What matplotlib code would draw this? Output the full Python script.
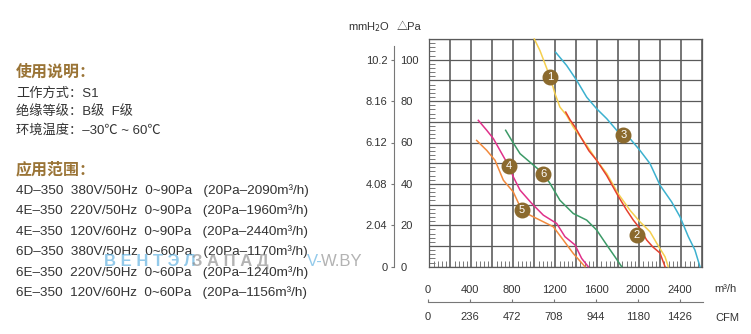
import numpy as np
import matplotlib.pyplot as plt
from matplotlib.ticker import MultipleLocator

FONT = ['Liberation Sans', 'Noto Sans CJK SC', 'DejaVu Sans']
plt.rcParams['font.family'] = FONT

# fan curves: airflow (m3/h) vs static pressure (Pa)
curve1_x = [1000, 1054, 1102, 1150, 1197, 1244, 1308, 1371, 1420, 1499, 1594, 1690, 1800, 1911, 2006, 2102, 2165, 2245, 2276]
curve1_y = [110, 104.4, 98, 91.6, 83.6, 77.1, 73.1, 67.5, 64, 58.6, 51.4, 45, 35.2, 27.3, 21.7, 16.9, 11.4, 4.8, 0]
curve2_x = [1299, 1340, 1388, 1450, 1520, 1594, 1690, 1800, 1880, 1943, 2006, 2070, 2130, 2197, 2245]
curve2_y = [74.7, 71, 67.5, 62, 56, 51.4, 44, 34, 27.3, 22.5, 18.5, 12.9, 9.5, 6.6, 0]
curve3_x = [1203, 1308, 1404, 1499, 1594, 1690, 1800, 1911, 2006, 2102, 2197, 2308, 2388, 2467, 2530, 2578]
curve3_y = [103.6, 97.2, 90, 81.9, 76.3, 71.5, 65, 61.9, 56.2, 49.8, 39.4, 31.3, 24.1, 14.5, 8, 0]
curve4_x = [467, 547, 610, 673, 759, 800, 864, 975, 1086, 1213, 1292, 1388, 1451, 1514]
curve4_y = [70.7, 65.9, 61.9, 56.2, 48.5, 43.4, 37, 30.6, 24.9, 20.9, 14.5, 10.5, 4, 0]
curve5_x = [451, 547, 626, 705, 800, 880, 959, 1054, 1181, 1276, 1371, 1483]
curve5_y = [61, 56.2, 51.4, 41.8, 36.1, 27.3, 24.9, 22.5, 19.3, 12.9, 6.4, 0]
curve6_x = [727, 785, 864, 975, 1086, 1150, 1244, 1371, 1499, 1594, 1690, 1768, 1832]
curve6_y = [65.9, 61, 54.6, 49.8, 45, 40.2, 32.1, 25.7, 22.5, 17.7, 10.5, 4.8, 0]

curve_colors = ['#f5cf4e', '#e5402e', '#3cb1cf', '#e0318a', '#f28a3d', '#3c9a67']
label_x = [1150, 1975, 1848, 759, 880, 1086]
label_y = [91.6, 15.1, 63.5, 48.5, 27.3, 45]

pa_ticks = [0, 20, 40, 60, 80, 100]
mm_labels = ['0', '2.04', '4.08', '6.12', '8.16', '10.2']
flow_ticks = [0, 400, 800, 1200, 1600, 2000, 2400]
cfm_labels = ['0', '236', '472', '708', '944', '1180', '1426']

usage_title = '使用说明：'
usage_lines = ['工作方式：S1', '绝缘等级：B级  F级', '环境温度：–30℃ ~ 60℃']
range_title = '应用范围：'
range_lines = [
    '4D–350  380V/50Hz  0~90Pa   (20Pa–2090m³/h)',
    '4E–350  220V/50Hz  0~90Pa   (20Pa–1960m³/h)',
    '4E–350  120V/60Hz  0~90Pa   (20Pa–2440m³/h)',
    '6D–350  380V/50Hz  0~60Pa   (20Pa–1170m³/h)',
    '6E–350  220V/50Hz  0~60Pa   (20Pa–1240m³/h)',
    '6E–350  120V/60Hz  0~60Pa   (20Pa–1156m³/h)',
]

W, H = 751, 334
fig = plt.figure(figsize=(W / 100, H / 100), dpi=100)
fig.patch.set_facecolor('white')


def fx(px):
    return px / W


def fy(py):
    return 1 - py / H


text_color = '#333333'
gold = '#9a7436'

# left description block
fig.text(fx(16), fy(71.7), usage_title, fontsize=11.5, weight='bold', color=gold, va='center')
for i, line in enumerate(usage_lines):
    fig.text(fx(16), fy(93.3 + i * 18.4), line, fontsize=9.5, color=text_color, va='center')
fig.text(fx(16), fy(170), range_title, fontsize=11.5, weight='bold', color=gold, va='center')
for i, line in enumerate(range_lines):
    fig.text(fx(16), fy(190.5 + i * 20.5), line, fontsize=9.7, color=text_color, va='center')

# watermark
fig.text(fx(104), fy(261.5), 'В Е Н Т Э Л', fontsize=12, weight='bold', color='#5aaee0', alpha=0.65, va='center')
fig.text(fx(192), fy(261.5), 'З А П А Д', fontsize=12, weight='bold', color='#8a8a8a', alpha=0.65, va='center')
fig.text(fx(307), fy(261.5), 'V-', fontsize=12, color='#5aaee0', alpha=0.65, va='center')
fig.text(fx(321), fy(261.5), 'W.BY', fontsize=12, color='#8a8a8a', alpha=0.65, va='center')

# main chart
left, right, top, bottom = 429.3, 702.3, 39, 266.7
ax = fig.add_axes([fx(left), fy(bottom), fx(right - left), (bottom - top) / H])
ax.set_xlim(0, 2600)
ax.set_ylim(0, 110)
ax.xaxis.set_major_locator(MultipleLocator(200))
ax.yaxis.set_major_locator(MultipleLocator(10))
ax.xaxis.set_minor_locator(MultipleLocator(40))
ax.yaxis.set_minor_locator(MultipleLocator(2))
ax.grid(True, which='major', axis='x', color='#505050', lw=1.1)
ax.grid(True, which='major', axis='y', color='#5a5a5a', lw=0.9)
ax.tick_params(which='major', length=0, labelbottom=False, labelleft=False)
ax.tick_params(which='minor', direction='in', length=4, color='#777777', width=0.7,
               left=True, bottom=True, right=False, top=False)
for s in ax.spines.values():
    s.set_color('#5a5a5a')
    s.set_linewidth(0.9)

curves = [(curve1_x, curve1_y), (curve2_x, curve2_y), (curve3_x, curve3_y),
          (curve4_x, curve4_y), (curve5_x, curve5_y), (curve6_x, curve6_y)]
for (cx, cy), c in zip(curves, curve_colors):
    ax.plot(cx, cy, color=c, lw=1.1, zorder=3, clip_on=False)

ax.scatter(label_x, label_y, s=110, color='#8b6a2e', zorder=5, clip_on=False)
for i, (lx, ly) in enumerate(zip(label_x, label_y)):
    ax.text(lx, ly, str(i + 1), color='white', fontsize=8, ha='center', va='center', zorder=6)

# pressure scale on the left: mmH2O | Pa
axl = fig.add_axes([fx(394.3), fy(bottom), 0.0001, (bottom - top) / H])
axl.set_ylim(0, 110)
axl.set_xticks([])
for k in ['top', 'right', 'bottom']:
    axl.spines[k].set_visible(False)
axl.spines['left'].set_color('#777777')
axl.spines['left'].set_linewidth(0.8)
axl.spines['left'].set_bounds(0, 106.4)
axl.set_yticks(pa_ticks, mm_labels)
axl.tick_params(axis='y', length=2.5, width=0.8, color='#777777', pad=2.5,
                labelsize=8, labelcolor=text_color)
pa_axis = axl.secondary_yaxis('right')
pa_axis.set_yticks(pa_ticks, [str(t) for t in pa_ticks])
pa_axis.tick_params(length=0, pad=4.3, labelsize=8, labelcolor=text_color)
pa_axis.spines['right'].set_visible(False)

fig.text(fx(348), fy(26.7), 'mmH$_2$O', fontsize=8, color=text_color, va='center')
fig.text(fx(397), fy(26.7), '△Pa', fontsize=8, color=text_color, va='center')

# airflow scale below: m3/h on top, CFM under the line
axb = fig.add_axes([fx(428), fy(302), fx(703 - 428), 0.0001])
axb.set_xlim(0, 2600 * (703 - 428) / (right - left))
axb.set_yticks([])
for k in ['top', 'right', 'left']:
    axb.spines[k].set_visible(False)
axb.spines['bottom'].set_color('#777777')
axb.spines['bottom'].set_linewidth(0.8)
axb.set_xticks(flow_ticks, cfm_labels)
axb.tick_params(axis='x', direction='in', length=2.5, width=0.8, color='#777777',
                pad=7.5, labelsize=8, labelcolor=text_color)
flow_axis = axb.secondary_xaxis('top')
flow_axis.set_xticks(flow_ticks, [str(t) for t in flow_ticks])
flow_axis.tick_params(length=0, pad=5, labelsize=8, labelcolor=text_color)
flow_axis.spines['top'].set_visible(False)

fig.text(fx(714), fy(289), 'm³/h', fontsize=8, color=text_color, va='center')
fig.text(fx(715), fy(318), 'CFM', fontsize=8, color=text_color, va='center')

fig.savefig('out.png', dpi=100, facecolor='white')
